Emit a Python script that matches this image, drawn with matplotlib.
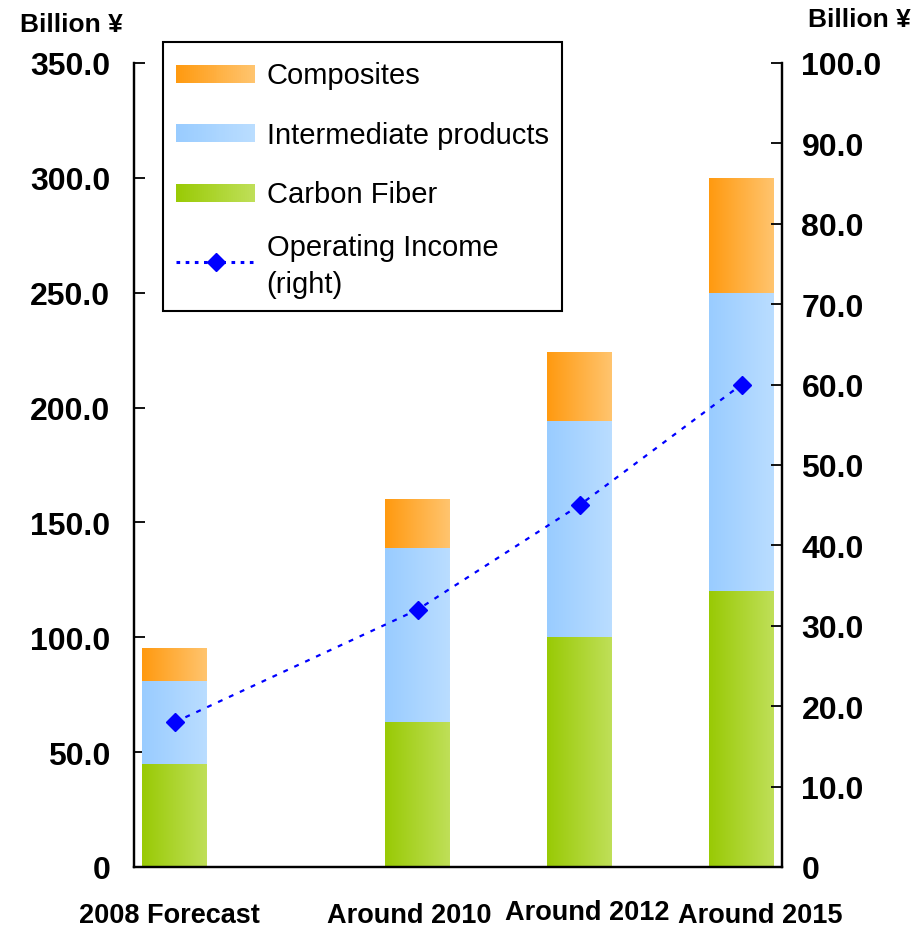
import numpy as np
import matplotlib
matplotlib.use("Agg")
import matplotlib.pyplot as plt
from matplotlib.patches import Rectangle
from matplotlib.lines import Line2D
from matplotlib.ticker import FuncFormatter, MultipleLocator
from matplotlib.colors import to_rgb
from matplotlib.transforms import ScaledTranslation

plt.rcParams['font.family'] = ['Liberation Sans', 'DejaVu Sans']

# data (billion yen)
categories = ["2008 Forecast", "Around 2010", "Around 2012", "Around 2015"]
x_pos = [0, 1.5, 2.5, 3.5]
carbon_fiber = [45, 63, 100, 120]
intermediate = [36, 76, 94, 130]
composites = [14, 21, 30, 50]
operating_income = [18, 32, 45, 60]  # right axis

green = ('#99CA05', '#BFDF58')
blue = ('#99CCFF', '#BADDFF')
orange = ('#FF9A10', '#FFC46E')


def grad_colors(c0, c1, n):
    t = np.linspace(0, 1, n)[:, None]
    return np.array(to_rgb(c0)) * (1 - t) + np.array(to_rgb(c1)) * t


def gradient_bars(ax, bars, cols):
    img = grad_colors(cols[0], cols[1], 64)[None, :, :]
    for b in bars:
        x0, y0 = b.get_x(), b.get_y()
        ax.imshow(img, extent=[x0, x0 + b.get_width(), y0, y0 + b.get_height()],
                  aspect='auto', interpolation='bilinear', zorder=2)


class GradientHandler:
    def __init__(self, cols, rect_h=13):
        self.cols = cols
        self.rect_h = rect_h

    def legend_artist(self, legend, orig_handle, fontsize, handlebox):
        x0, y0 = -handlebox.xdescent, -handlebox.ydescent
        w, h = handlebox.width, handlebox.height
        y0 = y0 + (h - self.rect_h) / 2
        n = 40
        cs = grad_colors(self.cols[0], self.cols[1], n)
        first = None
        for i in range(n):
            r = Rectangle([x0 + i * w / n, y0], w / n + 0.3, self.rect_h,
                          facecolor=cs[i], edgecolor='none',
                          transform=handlebox.get_transform())
            handlebox.add_artist(r)
            if first is None:
                first = r
        return first


fig = plt.figure(figsize=(9.24, 9.28), dpi=100)
ax = fig.add_axes([134 / 924, 60 / 928, 648 / 924, 804 / 928])

width = 0.4
b1 = ax.bar(x_pos, carbon_fiber, width, color='none', edgecolor='none')
bottom2 = np.array(carbon_fiber)
b2 = ax.bar(x_pos, intermediate, width, bottom=bottom2, color='none', edgecolor='none')
bottom3 = bottom2 + np.array(intermediate)
b3 = ax.bar(x_pos, composites, width, bottom=bottom3, color='none', edgecolor='none')
gradient_bars(ax, b1, green)
gradient_bars(ax, b2, blue)
gradient_bars(ax, b3, orange)

ax.set_xlim(-0.25, 3.75)
ax.set_ylim(0, 350)
ax.yaxis.set_major_locator(MultipleLocator(50))

fmt = FuncFormatter(lambda v, p: "0" if v == 0 else f"{v:.1f}")
ax.yaxis.set_major_formatter(fmt)

ax2 = ax.twinx()
ax2.plot(x_pos, operating_income, color='#0000FF', linestyle=(0, (2.2, 3.2)),
         linewidth=1.6, marker='D', markersize=9, zorder=5)
ax2.set_ylim(0, 100)
ax2.yaxis.set_major_locator(MultipleLocator(10))
ax2.yaxis.set_major_formatter(fmt)

for a in (ax, ax2):
    a.spines['top'].set_visible(False)
    for s in a.spines.values():
        s.set_linewidth(1.6)
        s.set_color('black')

ax.tick_params(axis='y', direction='in', length=8, width=1.3, pad=17,
               labelsize=23)
ax2.tick_params(axis='y', direction='in', length=8, width=1.3, pad=14,
                labelsize=23)
for lab in ax.get_yticklabels() + ax2.get_yticklabels():
    lab.set_fontweight('bold')

ax.set_xticks(x_pos)
ax.set_xticklabels(categories, fontsize=19.5, fontweight='bold')
ax.tick_params(axis='x', length=0, pad=25)
offsets = [(-5, 0), (-8, 0), (8, 3), (19, 0)]
for lab, (dx, dy) in zip(ax.get_xticklabels(), offsets):
    lab.set_transform(lab.get_transform() +
                      ScaledTranslation(dx / 100, dy / 100, fig.dpi_scale_trans))

fig.text(20 / 924, 1 - 32 / 928, "Billion ¥", fontsize=19, fontweight='bold',
         ha='left', va='baseline')
fig.text(808 / 924, 1 - 27 / 928, "Billion ¥", fontsize=19, fontweight='bold',
         ha='left', va='baseline')

# legend
h_comp = Rectangle((0, 0), 1, 1, label="Composites")
h_int = Rectangle((0, 0), 1, 1, label="Intermediate products")
h_cf = Rectangle((0, 0), 1, 1, label="Carbon Fiber")
h_oi = Line2D([], [], color='#0000FF', linestyle=(0, (1.2, 1.8)), linewidth=2.2,
              marker='D', markersize=9)
leg = ax2.legend([h_comp, h_int, h_cf, h_oi],
                 ["Composites", "Intermediate products", "Carbon Fiber",
                  "Operating Income\n(right)"],
                 handler_map={h_comp: GradientHandler(orange),
                              h_int: GradientHandler(blue),
                              h_cf: GradientHandler(green)},
                 loc='upper left', bbox_to_anchor=(163 / 924, 1 - 43 / 928),
                 bbox_transform=fig.transFigure, borderaxespad=0,
                 fontsize=21, handlelength=2.7, handleheight=1.6,
                 handletextpad=0.4, labelspacing=0.75, borderpad=0.45,
                 numpoints=1, fancybox=False, framealpha=1, edgecolor='black')
leg.get_frame().set_linewidth(1.5)
leg.get_texts()[3].set_linespacing(1.4)

fig.savefig("out.png", dpi=100)
